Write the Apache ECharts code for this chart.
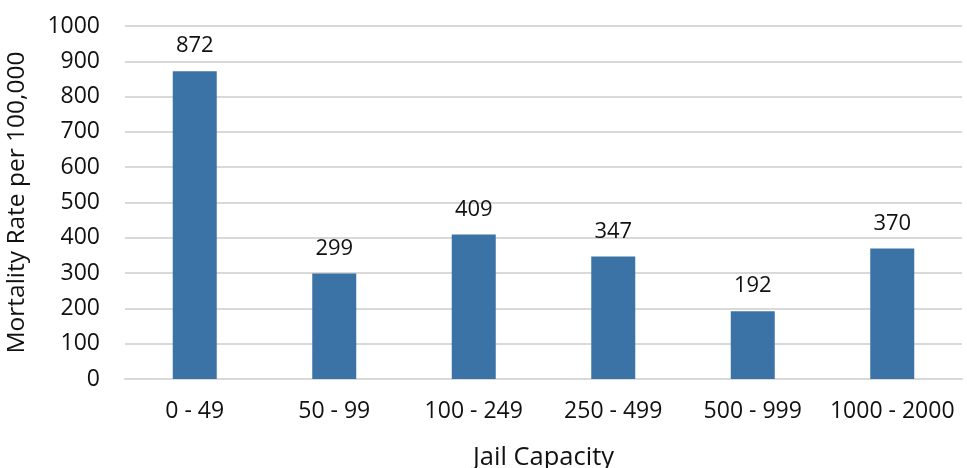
<!DOCTYPE html>
<html>
<head>
<meta charset="utf-8">
<script src="https://cdn.jsdelivr.net/npm/echarts@6/dist/echarts.min.js"></script>
<style>
  html, body { margin: 0; padding: 0; background: #fff; }
  #chart { width: 967px; height: 468px; }
</style>
</head>
<body>
<div id="chart"></div>
<script>
// Mortality rate by jail capacity
const capacities = ['0 - 49', '50 - 99', '100 - 249', '250 - 499', '500 - 999', '1000 - 2000'];
const mortalityRates = [872, 299, 409, 347, 192, 370];
const yTicks = { min: 0, max: 1000, step: 100 };

const FONT = '"Open Sans", "Noto Sans", sans-serif';
const chart = echarts.init(document.getElementById('chart'));

chart.setOption({
  animation: false,
  textStyle: { fontFamily: FONT },
  grid: { left: 125, right: 5, top: 26, bottom: 89, containLabel: false, outerBoundsMode: 'none' },
  xAxis: {
    type: 'category',
    data: capacities,
    name: 'Jail Capacity',
    nameLocation: 'middle',
    nameGap: 66,
    nameTextStyle: { fontSize: 25.5, color: '#111', fontFamily: FONT },
    axisLine: { show: true, lineStyle: { color: '#d9d9d9', width: 2 } },
    axisTick: { show: false },
    axisLabel: { fontSize: 23, color: '#111', margin: 21, interval: 0, fontFamily: FONT }
  },
  yAxis: {
    type: 'value',
    min: yTicks.min,
    max: yTicks.max,
    interval: yTicks.step,
    name: 'Mortality Rate per 100,000',
    nameLocation: 'middle',
    nameGap: 95,
    nameTextStyle: { fontSize: 24.5, color: '#111', fontFamily: FONT },
    axisLine: { show: false },
    axisTick: { show: false },
    axisLabel: { fontSize: 23, color: '#111', margin: 25, fontFamily: FONT, formatter: v => String(v) },
    splitLine: { lineStyle: { color: '#d9d9d9', width: 2 } }
  },
  series: [{
    type: 'bar',
    data: mortalityRates,
    barWidth: 44,
    itemStyle: { color: '#3b73a6' },
    label: {
      show: true,
      position: 'top',
      distance: 14,
      fontSize: 22,
      color: '#111',
      fontFamily: FONT
    }
  }]
});
</script>
</body>
</html>
